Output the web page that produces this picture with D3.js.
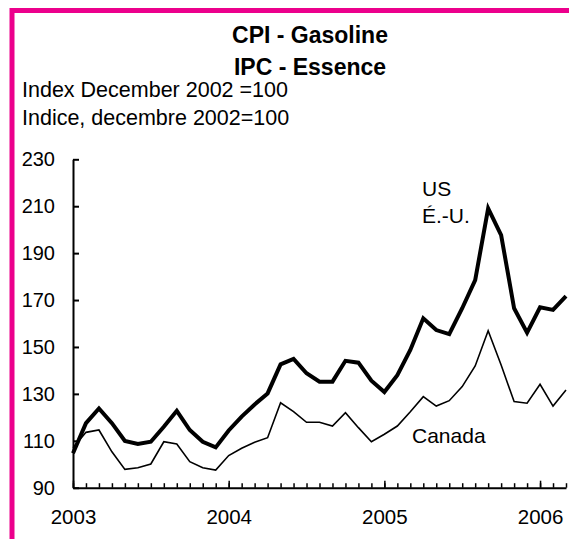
<!DOCTYPE html>
<html>
<head>
<meta charset="utf-8">
<script src="https://cdn.jsdelivr.net/npm/d3@7"></script>
<style>
  html, body { margin: 0; padding: 0; background: #fff; }
  svg { display: block; font-family: "Liberation Sans", Arial, sans-serif; }
</style>
</head>
<body>
<svg id="chart" width="569" height="539"></svg>
<script>
const months = [
  "2003-01","2003-02","2003-03","2003-04","2003-05","2003-06","2003-07","2003-08","2003-09","2003-10","2003-11","2003-12",
  "2004-01","2004-02","2004-03","2004-04","2004-05","2004-06","2004-07","2004-08","2004-09","2004-10","2004-11","2004-12",
  "2005-01","2005-02","2005-03","2005-04","2005-05","2005-06","2005-07","2005-08","2005-09","2005-10","2005-11","2005-12",
  "2006-01","2006-02","2006-03"
];
const usValues = [104.7,117.5,123.8,117.5,109.9,108.6,109.6,116.0,122.8,114.6,109.6,107.2,
  114.4,120.3,125.5,130.2,142.6,144.9,138.8,135.2,135.2,144.1,143.3,135.6,
  130.8,138.0,148.7,162.2,157.2,155.5,166.5,178.5,209.1,197.7,166.5,156.1,
  166.9,165.8,171.7];
const canadaValues = [107.0,113.6,114.6,105.3,97.8,98.5,100.1,109.6,108.6,101.1,98.5,97.5,
  103.7,106.8,109.4,111.3,126.2,122.4,117.9,117.9,116.3,122.0,115.6,109.6,
  112.8,116.3,122.4,128.8,124.8,127.1,133.1,141.9,156.9,142.3,126.7,126.0,
  134.1,124.8,131.6];
const yearTicks = ["2003-01","2004-01","2005-01","2006-01"];
const yearLabels = ["2003","2004","2005","2006"];
const yTicks = [90,110,130,150,170,190,210,230];
const titleLines = ["CPI - Gasoline","IPC - Essence"];
const subtitleLines = ["Index December 2002 =100","Indice, decembre 2002=100"];
const seriesLabels = { us: ["US","É.-U."], canada: ["Canada"] };

const svg = d3.select("#chart");
const pink = "#ec008c";

// border frame
svg.append("rect").attr("x", 12).attr("y", 10.5).attr("width", 700).attr("height", 700)
  .attr("fill", "none").attr("stroke", pink).attr("stroke-width", 5);

const x = d3.scalePoint().domain(months).range([73, 566]);
const y = d3.scaleLinear().domain([90, 230]).range([487.7, 159.3]);

// titles
svg.selectAll("text.title").data(titleLines).join("text")
  .attr("class","title")
  .attr("x", 310).attr("y", (d,i) => 43 + i*32)
  .attr("text-anchor","middle").attr("font-weight","bold").attr("font-size", 23)
  .text(d => d);
svg.selectAll("text.sub").data(subtitleLines).join("text")
  .attr("class","sub")
  .attr("x", 22).attr("y", (d,i) => 97 + i*28)
  .attr("font-size", 21.5)
  .text(d => d);

// y axis
const yAxis = svg.append("g").attr("transform","translate(73,0)")
  .call(d3.axisLeft(y).tickValues(yTicks).tickSizeInner(-6).tickSizeOuter(0).tickPadding(18));
yAxis.select(".domain").attr("stroke-width", 2);
yAxis.selectAll(".tick line").attr("stroke-width", 2);
yAxis.selectAll("text").attr("font-size", 20).attr("font-family","Liberation Sans, Arial, sans-serif").attr("fill","#000");

// x axis minor
const xMinor = svg.append("g").attr("transform","translate(0,487.7)")
  .call(d3.axisBottom(x).tickValues(months).tickSizeInner(-4.5).tickSizeOuter(0).tickFormat(""));
xMinor.select(".domain").attr("stroke-width", 2);
xMinor.selectAll(".tick line").attr("stroke-width", 1.5);
// x axis major
const xMajor = svg.append("g").attr("transform","translate(0,487.7)")
  .call(d3.axisBottom(x).tickValues(yearTicks).tickSizeInner(-7).tickSizeOuter(0).tickPadding(22)
    .tickFormat((d,i) => yearLabels[i]));
xMajor.select(".domain").remove();
xMajor.selectAll(".tick line").attr("stroke-width", 1.5);
xMajor.selectAll("text").attr("font-size", 20.5).attr("font-family","Liberation Sans, Arial, sans-serif").attr("fill","#000");

// lines
const line = d3.line().x((d,i) => x(months[i])).y(d => y(d));
svg.append("path").datum(canadaValues).attr("d", line)
  .attr("fill","none").attr("stroke","#000").attr("stroke-width",1.6).attr("stroke-linejoin","miter");
svg.append("path").datum(usValues).attr("d", line)
  .attr("fill","none").attr("stroke","#000").attr("stroke-width",4).attr("stroke-linejoin","miter");

// series labels
svg.selectAll("text.us").data(seriesLabels.us).join("text")
  .attr("class","us").attr("x", 422).attr("y", (d,i) => 196 + i*27.3)
  .attr("font-size", 21).text(d => d);
svg.selectAll("text.ca").data(seriesLabels.canada).join("text")
  .attr("class","ca").attr("x", 412).attr("y", 442.7)
  .attr("font-size", 21).text(d => d);
</script>
</body>
</html>
